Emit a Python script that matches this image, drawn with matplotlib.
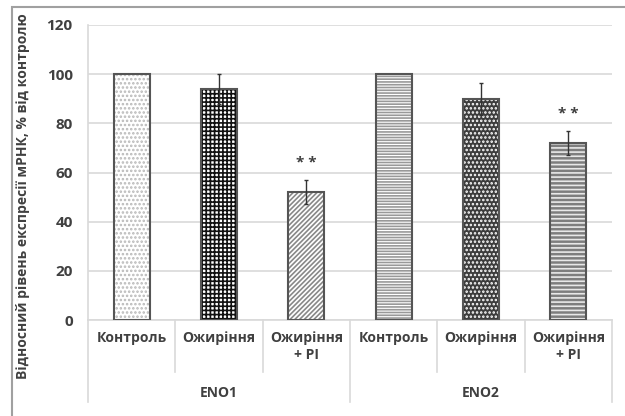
import matplotlib
matplotlib.use("Agg")
import matplotlib.pyplot as plt
from matplotlib.patches import Rectangle
import numpy as np

plt.rcParams['font.family'] = ['Open Sans', 'DejaVu Sans']

# data
categories = ["Контроль", "Ожиріння", "Ожиріння\n+ PI", "Контроль", "Ожиріння", "Ожиріння\n+ PI"]
groups = ["ENO1", "ENO2"]
values = [100, 94, 52, 100, 90, 72]
errors = [0, 6, 5, 0, 6.5, 5]
stars = ["", "", "* *", "", "", "* *"]
yticks = [0, 20, 40, 60, 80, 100, 120]

# bar styles: facecolor, hatch, hatch colour
styles = [
    ("white", "....", "#b8b8b8"),
    ("white", "++++", "#111111"),
    ("white", "///////", "#888888"),
    ("white", "------", "#999999"),
    ("#3c3c3c", "....", "#ffffff"),
    ("#7e7e7e", "----", "#e8e8e8"),
]

txt = "#404040"
fig = plt.figure(figsize=(6.25, 4.16), dpi=100)
ax = fig.add_axes([88/625, 1-320/416, (612-88)/625, (320-25)/416])

x = np.arange(len(values))
plt.rcParams['hatch.linewidth'] = 1.2
for i in range(len(values)):
    fc, h, hc = styles[i]
    ax.bar(x[i], values[i], width=0.41, color=fc, hatch=h, edgecolor=hc, linewidth=0, zorder=2)
    ax.bar(x[i], values[i], width=0.41, fill=False, edgecolor="#555555", linewidth=1.5, zorder=3)
    if errors[i] > 0:
        ax.errorbar(x[i], values[i], yerr=errors[i], fmt="none", ecolor="#333333",
                    elinewidth=1, capsize=1.5, zorder=4)
    if stars[i]:
        ax.text(x[i], values[i] + errors[i] + 7, stars[i], ha="center", va="center",
                fontsize=11, fontweight="bold", color=txt)

ax.set_xlim(-0.5, len(values) - 0.5)
ax.set_ylim(0, 120)
ax.set_yticks(yticks)
ax.set_xticks(x)
ax.set_xticklabels(categories, fontsize=10, fontweight="bold", color=txt, linespacing=1.25)
for lab in ax.get_yticklabels():
    lab.set_fontweight("bold")
    lab.set_color(txt)
    lab.set_fontsize(11)
ax.tick_params(axis="both", length=0)
ax.tick_params(axis="y", pad=11)
ax.tick_params(axis="x", pad=8)
ax.yaxis.grid(True, color="#d9d9d9", linewidth=1.2, zorder=0)
ax.set_axisbelow(True)
for s in ["top", "right"]:
    ax.spines[s].set_visible(False)
ax.spines["left"].set_color("#d9d9d9")
ax.spines["bottom"].set_color("#d9d9d9")
ax.spines["left"].set_linewidth(1.2)
ax.spines["bottom"].set_linewidth(1.2)

ax.set_ylabel("Відносний рівень експресії мРНК, % від контролю", fontsize=10,
              fontweight="bold", color=txt)
ax.yaxis.set_label_coords(-0.11, 0.42)

# category separators below the axis
tr = ax.get_xaxis_transform()
for b in [0.5, 1.5, 3.5, 4.5]:
    ax.plot([b, b], [0, -0.176], transform=tr, color="#d9d9d9", lw=1.2, clip_on=False)
for b in [-0.5, 2.5, 5.5]:
    ax.plot([b, b], [0, -0.278], transform=tr, color="#d9d9d9", lw=1.2, clip_on=False)
for gi, g in enumerate(groups):
    ax.text(gi * 3 + 1, -0.247, g, transform=tr, ha="center", va="center",
            fontsize=10, fontweight="bold", color=txt)

# outer frame
fig.patches.append(Rectangle((12/625, -0.1), 1.2, 1 - 7/416 + 0.1, transform=fig.transFigure,
                             fill=False, edgecolor="#a0a0a0", linewidth=1.5))

fig.savefig("out.png", dpi=100)
